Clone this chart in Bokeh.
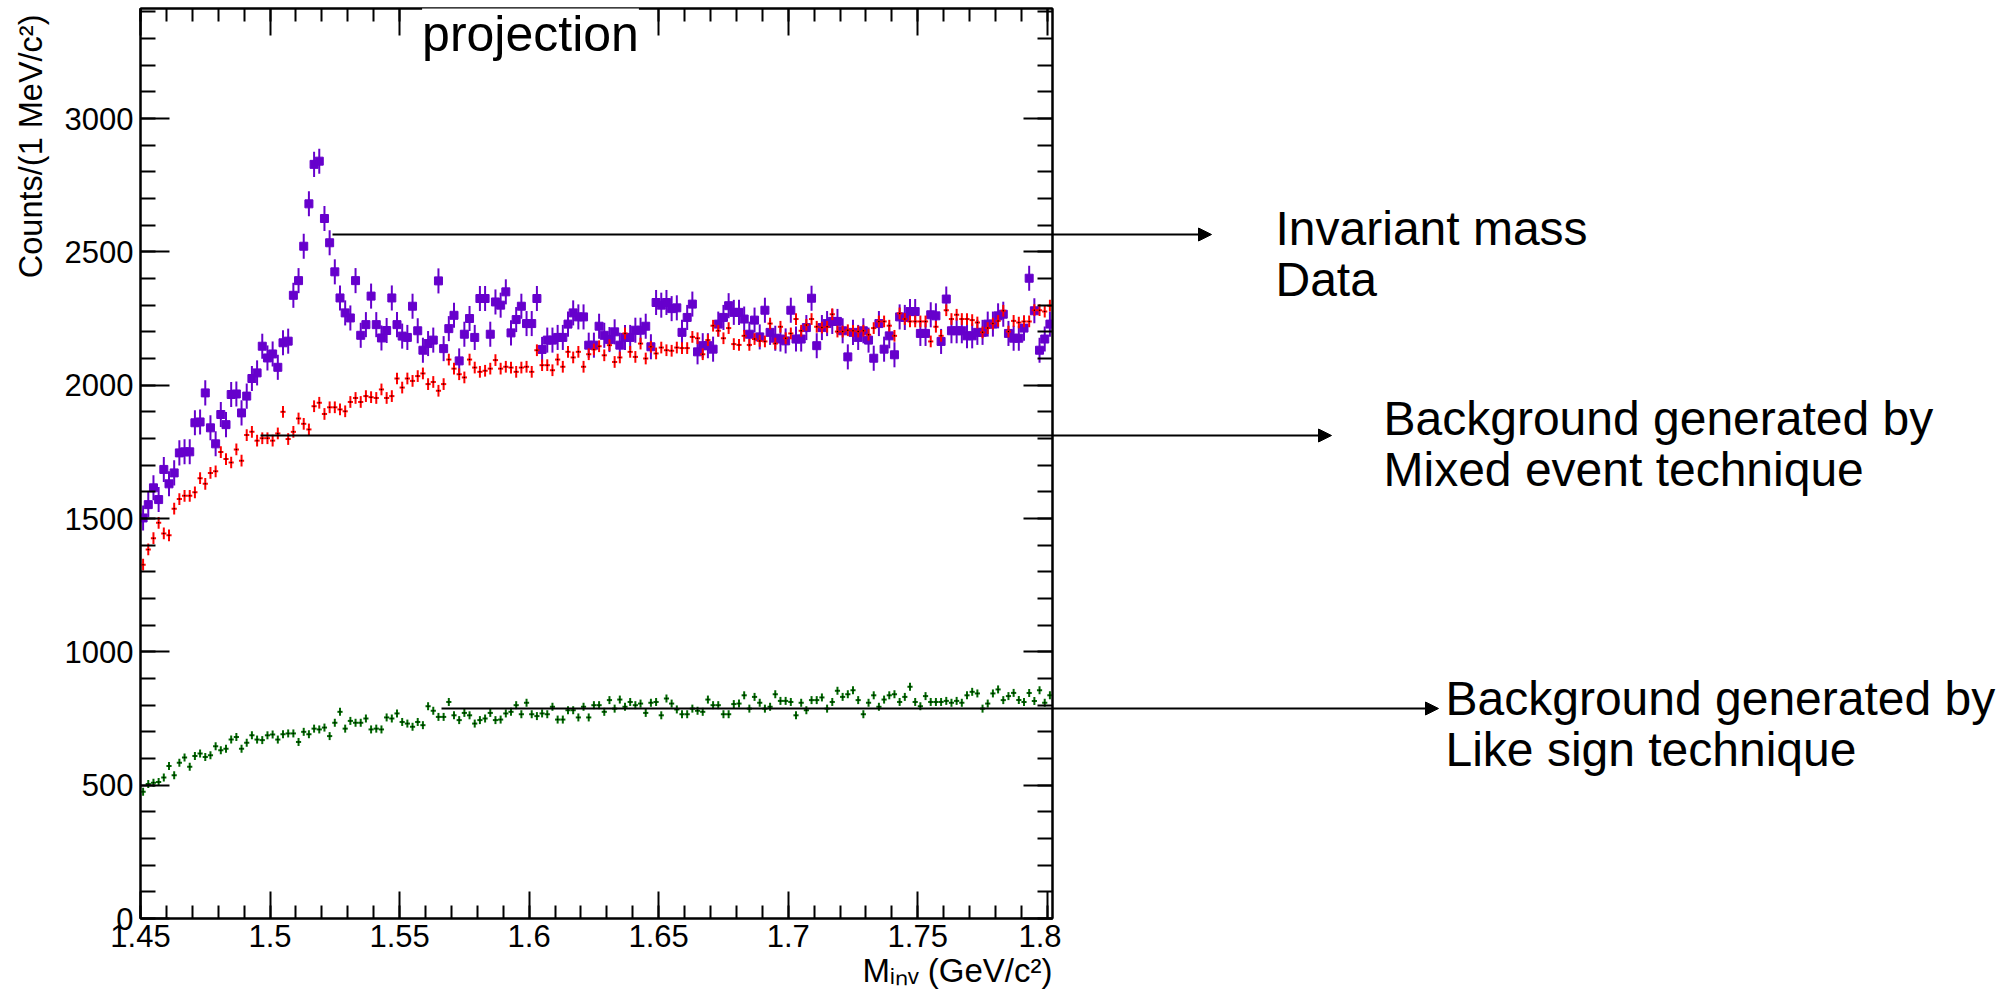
import numpy as np
from bokeh.plotting import figure
from bokeh.layouts import row
from bokeh.models import (LinearAxis, SingleIntervalTicker, Range1d, Label, Arrow,
                          NormalHead, CustomJSTickFormatter, ColumnDataSource, Title)
from bokeh.embed import file_html
from bokeh.resources import INLINE

# ---------------- data (176 bins of 2 MeV from 1.45 GeV) ----------------
BIN_LO = 1.45
BIN_W = 0.002

data_counts = [
    1502, 1552, 1615, 1571, 1684, 1630, 1671, 1746, 1750, 1750,
    1859, 1862, 1971, 1840, 1780, 1890, 1852, 1965, 1967, 1896,
    1959, 2025, 2046, 2146, 2102, 2117, 2067, 2159, 2165, 2337,
    2392, 2521, 2680, 2828, 2840, 2625, 2534, 2425, 2327, 2271,
    2252, 2392, 2187, 2227, 2334, 2227, 2177, 2205, 2327, 2227,
    2184, 2179, 2296, 2204, 2131, 2156, 2169, 2391, 2137, 2212,
    2262, 2091, 2191, 2250, 2179, 2325, 2325, 2191, 2312, 2300,
    2350, 2196, 2246, 2296, 2231, 2231, 2325, 2134, 2169, 2169,
    2179, 2179, 2229, 2271, 2256, 2256, 2150, 2150, 2221, 2187,
    2171, 2200, 2150, 2179, 2179, 2206, 2206, 2221, 2144, 2310,
    2300, 2310, 2287, 2290, 2198, 2254, 2304, 2125, 2148, 2148,
    2135, 2229, 2254, 2298, 2273, 2273, 2248, 2191, 2244, 2181,
    2281, 2198, 2176, 2173, 2166, 2281, 2173, 2173, 2216, 2326,
    2148, 2216, 2231, 2239, 2239, 2204, 2106, 2198, 2179, 2204,
    2169, 2101, 2231, 2135, 2185, 2114, 2256, 2254, 2276, 2276,
    2194, 2194, 2264, 2260, 2164, 2323, 2204, 2204, 2204, 2185,
    2185, 2198, 2198, 2229, 2229, 2260, 2266, 2194, 2176, 2176,
    2214, 2401, 2279, 2131, 2173, 2229]

mixed_event_bkg = [
    1327, 1384, 1426, 1484, 1444, 1437, 1537, 1573, 1585, 1585,
    1598, 1651, 1630, 1671, 1677, 1749, 1723, 1710, 1759, 1717,
    1813, 1825, 1792, 1801, 1801, 1792, 1819, 1900, 1798, 1825,
    1875, 1855, 1834, 1921, 1934, 1892, 1917, 1917, 1909, 1902,
    1937, 1952, 1937, 1959, 1955, 1952, 1984, 1952, 1959, 2025,
    1991, 2025, 2016, 2034, 2044, 2004, 2012, 1979, 2004, 2096,
    2062, 2041, 2029, 2096, 2066, 2050, 2054, 2062, 2094, 2062,
    2069, 2066, 2050, 2066, 2069, 2050, 2131, 2075, 2075, 2056,
    2096, 2069, 2125, 2104, 2125, 2069, 2116, 2134, 2146, 2112,
    2150, 2087, 2104, 2194, 2125, 2106, 2156, 2100, 2144, 2119,
    2141, 2131, 2129, 2141, 2139, 2139, 2181, 2176, 2116, 2169,
    2223, 2204, 2176, 2214, 2154, 2151, 2185, 2151, 2173, 2166,
    2164, 2231, 2156, 2219, 2176, 2194, 2248, 2204, 2226, 2248,
    2219, 2216, 2219, 2266, 2201, 2201, 2206, 2204, 2201, 2204,
    2189, 2214, 2239, 2239, 2223, 2185, 2269, 2248, 2239, 2239,
    2239, 2239, 2164, 2219, 2185, 2281, 2248, 2264, 2248, 2248,
    2244, 2235, 2198, 2214, 2231, 2241, 2279, 2201, 2241, 2235,
    2239, 2239, 2281, 2281, 2276, 2298]

like_sign_bkg = [
    475, 504, 509, 512, 529, 572, 537, 584, 604, 569,
    609, 619, 606, 612, 646, 631, 637, 671, 681, 637,
    659, 687, 671, 669, 687, 690, 671, 691, 694, 694,
    662, 700, 691, 712, 709, 716, 684, 734, 775, 712,
    741, 734, 734, 750, 709, 712, 709, 754, 750, 769,
    737, 731, 719, 737, 725, 796, 779, 756, 756, 812,
    762, 744, 771, 762, 731,
    744, 750, 771, 744, 746, 769, 775, 800, 766, 809,
    766, 759, 769, 766, 794, 746, 746, 781, 781, 754,
    794, 754, 800, 800, 775, 819, 787, 821, 794, 812,
    800, 806, 771, 809, 812, 762, 825, 806, 784, 766,
    766, 787, 779, 775, 821, 800, 800, 766, 766, 804,
    806, 837, 787, 831, 809, 787, 794, 841, 816, 816,
    812, 762, 809, 781, 819,
    819, 829, 787, 812, 854, 831, 841, 856, 819, 766,
    809, 837, 794, 821, 837, 841, 812, 831, 869, 812,
    796, 834, 812, 812, 812, 816, 809, 816, 809, 837,
    850, 844, 787, 806, 844, 859, 819, 834, 846, 819,
    812, 846, 816, 856, 809, 837]

# error bar half-heights
data_err = 47
mixed_err = 22
like_err = 15

# texts
title_text = "projection"
y_title = "Counts/(1 MeV/c\u00b2)"
x_title = "M\u1d62\u2099\u1d65 (GeV/c\u00b2)"
ann_lines = [
    ["Invariant mass", "Data"],
    ["Background generated by", "Mixed event technique"],
    ["Background generated by", "Like sign technique"],
]

# ---------------- layout constants (page pixels) ----------------
H = 998
L_W = 58                      # panel holding the y title
FL, FR, FT, FB = 140, 1052, 8, 918   # plot frame on the page
A_RIGHT = 1061                # plot canvas right edge (clips the "1.8" label like the original)
A_W = A_RIGHT - L_W
B_X0, B_X1 = FR, 2000         # annotation panel (overlaps the plot border)
X0, X1 = 1.45, 1.802
Y0, Y1 = 0.0, 3412.5
PXX = (FR - FL) / (X1 - X0)
PXY = (FB - FT) / (Y1 - Y0)
BASE_SHIFT = 0.32             # Label draws its baseline this many font-sizes below the anchor

def dx(px):
    return X0 + (px - FL) / PXX

def dy(py):
    return Y0 + (FB - py) / PXY

FONT = "Liberation Sans"
PURPLE = "#6600cc"
RED = "#ff0000"
GREEN = "#006600"

# ---------------- main plot ----------------
p = figure(width=A_W, height=H, x_range=Range1d(X0, X1), y_range=Range1d(Y0, Y1),
           output_backend="svg", toolbar_location=None,
           min_border_left=FL - L_W, min_border_right=A_RIGHT - FR,
           min_border_top=FT, min_border_bottom=H - FB)
p.background_fill_color = "white"
p.border_fill_color = "white"
p.outline_line_color = "black"
p.outline_line_width = 2
p.xgrid.visible = False
p.ygrid.visible = False

xfmt = CustomJSTickFormatter(code="return String(parseFloat(tick.toFixed(3)));")

def style_axis(ax, tick_major, tick_minor, labels):
    ax.axis_line_color = "black"
    ax.axis_line_width = 2
    ax.major_tick_in = tick_major
    ax.major_tick_out = 0
    ax.minor_tick_in = tick_minor
    ax.minor_tick_out = 0
    ax.major_tick_line_width = 2
    ax.minor_tick_line_width = 2
    ax.major_tick_line_color = "black"
    ax.minor_tick_line_color = "black"
    ax.major_label_text_font = FONT
    if labels:
        ax.major_label_text_font_size = "31px"
        ax.major_label_text_color = "black"
    else:
        ax.major_label_text_font_size = "0px"
        ax.major_label_text_color = None
        ax.major_label_standoff = 0

xb = p.xaxis[0]
xb.ticker = SingleIntervalTicker(interval=0.05, num_minor_ticks=5)
xb.formatter = xfmt
style_axis(xb, 27, 13, True)
xb.major_label_standoff = 6

yl = p.yaxis[0]
yl.ticker = SingleIntervalTicker(interval=500, num_minor_ticks=5)
style_axis(yl, 29, 15, True)
yl.major_label_standoff = 7

xt = LinearAxis(ticker=SingleIntervalTicker(interval=0.05, num_minor_ticks=5), formatter=xfmt)
style_axis(xt, 27, 13, False)
p.add_layout(xt, "above")

yr = LinearAxis(ticker=SingleIntervalTicker(interval=500, num_minor_ticks=5))
style_axis(yr, 29, 15, False)
p.add_layout(yr, "right")

p.add_layout(Title(text=x_title, align="right", text_font=FONT, text_font_size="33px",
                   text_font_style="normal", text_color="black", standoff=0, offset=0),
             "below")

# ---------------- series ----------------
xc = BIN_LO + BIN_W * (np.arange(len(data_counts)) + 0.5)

def series_source(vals, err):
    v = np.asarray(vals, dtype=float)
    return ColumnDataSource(dict(x=xc, y=v, lo=v - err, hi=v + err,
                                 xl=xc - BIN_W / 2, xr=xc + BIN_W / 2))

s_data = series_source(data_counts, data_err)
s_mix = series_source(mixed_event_bkg, mixed_err)
s_like = series_source(like_sign_bkg, like_err)

p.segment(x0="x", y0="lo", x1="x", y1="hi", source=s_data, line_color=PURPLE, line_width=2)
p.segment(x0="xl", y0="y", x1="xr", y1="y", source=s_data, line_color=PURPLE, line_width=2)
p.scatter(x="x", y="y", source=s_data, marker="square", size=8,
          fill_color=PURPLE, line_color=PURPLE, line_width=1)

for src, col in ((s_mix, RED), (s_like, GREEN)):
    p.segment(x0="x", y0="lo", x1="x", y1="hi", source=src, line_color=col, line_width=2)
    p.segment(x0="xl", y0="y", x1="xr", y1="y", source=src, line_color=col, line_width=2)
    p.scatter(x="x", y="y", source=src, marker="circle", size=1.5,
              fill_color="black", line_color=None)

# title box (white, hides the top ticks as in the original)
TITLE_FS = 50
p.add_layout(Label(x=dx(530), y=dy(49 - BASE_SHIFT * TITLE_FS), text=title_text,
                   text_align="center", text_baseline="alphabetic", text_font=FONT,
                   text_font_size=f"{TITLE_FS}px", text_color="black",
                   background_fill_color="white", border_line_color=None))

# ---------------- arrows & annotation panels ----------------
arrow_rows = [  # (start x, tip x, y) in page pixels
    (332, 1211, 234),
    (260, 1331, 435),
    (441, 1438, 708),
]
text_rows = [  # (left x, first baseline y) in page pixels
    (1275, 243),
    (1383, 433),
    (1445, 713),
]

# arrow shafts inside the plot frame
for xs, xe, yy in arrow_rows:
    p.add_layout(Arrow(x_start=dx(xs), y_start=dy(yy), x_end=dx(FR + 40), y_end=dy(yy),
                       line_color="black", line_width=2, start=None, end=None))

def panel(x0, x1, w):
    # frames in a row are aligned with the plot frame, so map page pixels FT..FB
    f = figure(width=w, height=H, x_range=Range1d(x0, x1), y_range=Range1d(FB, FT),
               x_axis_type=None, y_axis_type=None, toolbar_location=None,
               output_backend="svg", min_border=0)
    f.outline_line_color = None
    return f

YT_FS = 32.5
left_panel = panel(0, L_W, L_W)
left_panel.background_fill_color = "white"
left_panel.border_fill_color = "white"
left_panel.add_layout(Label(x=41 - BASE_SHIFT * YT_FS, y=14, text=y_title, angle=np.pi / 2,
                            text_align="right", text_baseline="alphabetic",
                            text_font=FONT, text_font_size=f"{YT_FS}px", text_color="black"))

right_panel = panel(B_X0, B_X1, B_X1 - B_X0)
right_panel.background_fill_color = None
right_panel.border_fill_color = None
right_panel.margin = (0, 0, 0, -(A_RIGHT - FR))

ANN_FS = 48
for (xs, xe, yy), (tx, ty), lines in zip(arrow_rows, text_rows, ann_lines):
    right_panel.add_layout(Arrow(x_start=B_X0, y_start=yy, x_end=xe, y_end=yy,
                                 line_color="black", line_width=2, start=None,
                                 end=NormalHead(size=13, fill_color="black",
                                                line_color="black", line_width=1)))
    for k, line in enumerate(lines):
        right_panel.add_layout(Label(x=tx, y=ty + 51 * k - BASE_SHIFT * ANN_FS, text=line,
                                     text_align="left", text_baseline="alphabetic",
                                     text_font=FONT, text_font_size=f"{ANN_FS}px",
                                     text_color="black"))

layout = row(left_panel, p, right_panel)
open("out.html", "w").write(file_html(layout, INLINE))
